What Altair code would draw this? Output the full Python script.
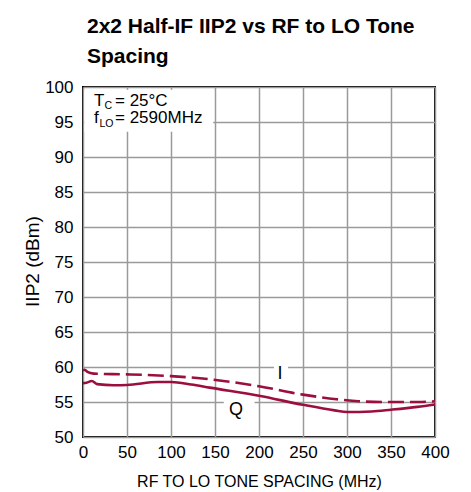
import altair as alt
import pandas as pd

# ---- data ----
i_x = [0, 2, 5, 12, 50, 100, 144, 200, 250, 288, 313, 350, 380, 400]
i_y = [59.5, 59.6, 59.3, 59.05, 58.95, 58.7, 58.25, 57.25, 56.05, 55.4, 55.1, 55.0, 55.0, 55.1]
q_x = [0, 4, 10, 16, 35, 50, 85, 100, 123, 144, 200, 250, 286, 300, 328, 350, 380, 400]
q_y = [57.7, 57.75, 58.0, 57.55, 57.4, 57.43, 57.85, 57.85, 57.5, 57.05, 55.9, 54.6, 53.8, 53.57, 53.65, 53.9, 54.3, 54.65]

x_ticks = [0, 50, 100, 150, 200, 250, 300, 350, 400]
y_ticks = [50, 55, 60, 65, 70, 75, 80, 85, 90, 95, 100]

title_lines = ["2x2 Half-IF IIP2 vs RF to LO Tone", "Spacing"]
fig_code = "5585 G66"
x_title = "RF TO LO TONE SPACING (MHz)"
y_title = "IIP2 (dBm)"

curve_labels = ["I", "Q"]
label_x = [224, 174]
label_y = [59.0, 53.86]

# white backgrounds behind annotation texts
box_x0 = [1.5, 217, 160]
box_x1 = [148, 233, 195]
box_y0 = [93.6, 58.3, 52.5]
box_y1 = [99.6, 60.6, 55.6]

ann_text = ["T", "C", "= 25°C", "f", "LO", "= 2590MHz"]
ann_y = [97.35, 96.85, 97.35, 94.8, 94.3, 94.8]
ann_dx = [11, 21.5, 32, 11, 16.5, 32]
ann_size = [17, 10.5, 17, 17, 10.5, 17]

RED = "#9c0f3c"
FONT = "Liberation Sans, Arial, sans-serif"

xs = alt.Scale(domain=[0, 400], nice=False, zero=False)
ys = alt.Scale(domain=[50, 100], nice=False, zero=False)

xaxis = alt.Axis(values=x_ticks, title=x_title, grid=True, ticks=False, tickSize=0,
                 domain=False, labelFont=FONT, labelFontSize=17, labelColor="black",
                 labelPadding=7, labelFlush=False, labelOverlap=False,
                 titleFont=FONT, titleFontSize=16, titleFontWeight="normal",
                 titleColor="black", titleX=176, titleY=49, titleBaseline="alphabetic",
                 titleAnchor="middle")
yaxis = alt.Axis(values=y_ticks, title=y_title, grid=True, ticks=False, tickSize=0,
                 domain=False, labelFont=FONT, labelFontSize=17, labelColor="black",
                 labelPadding=10, labelFlush=False, labelOverlap=False,
                 titleFont=FONT, titleFontSize=19, titleFontWeight="normal",
                 titleColor="black", titleX=-51, titleY=174, titleAngle=-90,
                 titleAlign="center", titleBaseline="middle")

X = alt.X("x:Q", scale=xs, axis=xaxis)
Y = alt.Y("y:Q", scale=ys, axis=yaxis)

curves = pd.DataFrame({"x": i_x + q_x, "y": i_y + q_y,
                       "s": ["I"] * len(i_x) + ["Q"] * len(q_x)})
boxes = pd.DataFrame({"x": box_x0, "x2": box_x1, "y": box_y0, "y2": box_y1})
labels = pd.DataFrame({"x": label_x, "y": label_y, "t": curve_labels})

box_layer = alt.Chart(boxes).mark_rect(color="white").encode(
    x=X, x2="x2:Q", y=Y, y2="y2:Q")

i_line = alt.Chart(curves).transform_filter(alt.datum.s == "I").mark_line(
    color=RED, strokeWidth=2.6, strokeDash=[16, 6], interpolate="monotone").encode(
    x=X, y=Y, order="x:Q")

q_line = alt.Chart(curves).transform_filter(alt.datum.s == "Q").mark_line(
    color=RED, strokeWidth=2.6, interpolate="monotone").encode(
    x=X, y=Y, order="x:Q")

label_layer = alt.Chart(labels).mark_text(font=FONT, fontSize=18, color="black",
                                          baseline="middle", align="center").encode(
    x=X, y=Y, text="t:N")

ann_layers = []
for t, yv, dx, sz in zip(ann_text, ann_y, ann_dx, ann_size):
    df = pd.DataFrame({"x": [0], "y": [yv], "t": [t]})
    ann_layers.append(alt.Chart(df).mark_text(
        font=FONT, fontSize=sz, color="black", align="left", baseline="alphabetic", dx=dx
    ).encode(x=X, y=Y, text="t:N"))

one = pd.DataFrame({"a": [0]})
title_layer = alt.Chart(one).mark_text(
    text=title_lines, font=FONT, fontSize=21, fontWeight="bold", color="black",
    align="left", baseline="alphabetic", lineHeight=30).encode(
    x=alt.value(4), y=alt.value(-54))
code_layer = alt.Chart(one).mark_text(
    text=fig_code, font=FONT, fontSize=9, color="black", align="right",
    baseline="alphabetic").encode(x=alt.value(350), y=alt.value(-83))

chart = alt.layer(box_layer, i_line, q_line, label_layer, *ann_layers,
                  title_layer, code_layer).properties(
    width=352, height=350,
    autosize=alt.AutoSizeParams(type="none"),
    padding={"left": 75, "top": 79, "right": 28, "bottom": 55},
).configure_view(stroke="black", strokeWidth=2).configure_axis(
    gridColor="#9a9a9a", gridWidth=1.5, gridOpacity=1)

chart.save("out.html", embed_options={"renderer": "svg", "actions": False})
